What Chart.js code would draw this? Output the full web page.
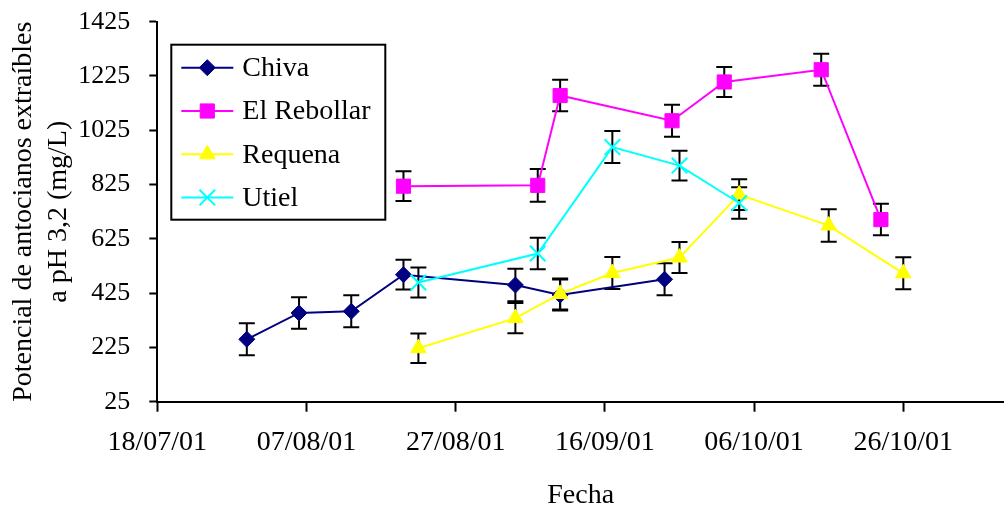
<!DOCTYPE html>
<html>
<head>
<meta charset="utf-8">
<script src="https://cdn.jsdelivr.net/npm/chart.js@4.4.0/dist/chart.umd.min.js"></script>
<style>
  html, body { margin: 0; padding: 0; background: #fff; }
  #wrap { width: 1004px; height: 510px; position: relative; }
</style>
</head>
<body>
<div id="wrap"><canvas id="antoChart"></canvas></div>
<script>
// sampling dates (dd/mm/yy) and values in mg/L, error = half height of the bar
const chivaDates = ['30/07/01','06/08/01','13/08/01','20/08/01','04/09/01','10/09/01','24/09/01'];
const chivaValues = [255, 352, 358, 493, 455, 418, 476];
const chivaErrors = [59, 58, 59, 55, 60, 57, 59];

const rebollarDates = ['20/08/01','07/09/01','10/09/01','25/09/01','02/10/01','15/10/01','23/10/01'];
const rebollarValues = [819, 822, 1153, 1060, 1203, 1248, 696];
const rebollarErrors = [55, 60, 58, 59, 55, 59, 58];

const requenaDates = ['22/08/01','04/09/01','10/09/01','17/09/01','26/09/01','04/10/01','16/10/01','26/10/01'];
const requenaValues = [222, 333, 422, 499, 556, 788, 674, 498];
const requenaErrors = [54, 56, 57, 59, 57, 57, 60, 59];

const utielDates = ['22/08/01','07/09/01','17/09/01','26/09/01','04/10/01'];
const utielValues = [464, 571, 963, 895, 757];
const utielErrors = [55, 58, 59, 55, 58];

const xTickLabels = ['18/07/01','07/08/01','27/08/01','16/09/01','06/10/01','26/10/01'];
const xStart = '18/07/01';
const xEnd = '08/11/01';

function toUTC(s){
  const [d,m,y] = s.split('/').map(Number);
  return Date.UTC(2000 + y, m - 1, d);
}
const base = toUTC(xStart);
function dayOf(s){ return (toUTC(s) - base) / 86400000; }

function points(dates, values){
  return dates.map((d,i)=>({x: dayOf(d), y: values[i]}));
}

const FONT = 'Liberation Serif';

const errorBars = {
  id: 'errorBars',
  beforeDatasetsDraw(chart) {
    const {ctx} = chart;
    const y = chart.scales.y;
    ctx.save();
    ctx.strokeStyle = '#000';
    ctx.lineWidth = 2;
    chart.data.datasets.forEach((ds, i) => {
      chart.getDatasetMeta(i).data.forEach((pt, j) => {
        const v = ds.data[j].y, e = ds.errors[j];
        const top = y.getPixelForValue(v + e);
        const bot = y.getPixelForValue(v - e);
        ctx.beginPath();
        ctx.moveTo(pt.x, top); ctx.lineTo(pt.x, bot);
        ctx.moveTo(pt.x - 8, top); ctx.lineTo(pt.x + 8, top);
        ctx.moveTo(pt.x - 8, bot); ctx.lineTo(pt.x + 8, bot);
        ctx.stroke();
      });
    });
    ctx.restore();
  }
};

const boxLegend = {
  id: 'boxLegend',
  afterDraw(chart) {
    const {ctx, chartArea} = chart;
    const left = chartArea.left + 14, top = chartArea.top + 23;
    const w = 214, h = 175;
    ctx.save();
    ctx.fillStyle = '#fff';
    ctx.fillRect(left, top, w, h);
    ctx.strokeStyle = '#000';
    ctx.lineWidth = 2;
    ctx.strokeRect(left, top, w, h);
    ctx.font = '28px "' + FONT + '"';
    ctx.textBaseline = 'middle';
    ctx.textAlign = 'left';
    chart.data.datasets.forEach((ds, i) => {
      const cy = top + 23 + i * 43.3;
      ctx.strokeStyle = ds.borderColor;
      ctx.lineWidth = 2;
      ctx.beginPath();
      ctx.moveTo(left + 10, cy);
      ctx.lineTo(left + 62, cy);
      ctx.stroke();
      ctx.fillStyle = ds.pointBackgroundColor;
      ctx.strokeStyle = ds.pointBorderColor;
      ctx.lineWidth = ds.pointBorderWidth;
      Chart.helpers.drawPoint(ctx, {pointStyle: ds.pointStyle, radius: ds.pointRadius, rotation: 0, borderWidth: ds.pointBorderWidth}, left + 36, cy);
      ctx.fillStyle = '#000';
      ctx.fillText(ds.label, left + 71, cy + 1);
    });
    ctx.restore();
  }
};

function series(label, dates, values, errors, color, style, radius, order){
  return {
    label: label,
    data: points(dates, values),
    errors: errors,
    borderColor: color,
    backgroundColor: color,
    borderWidth: 2,
    pointStyle: style,
    pointRadius: radius,
    pointHoverRadius: radius,
    pointBackgroundColor: color,
    pointBorderColor: color,
    pointBorderWidth: style === 'crossRot' ? 2 : 1,
    tension: 0,
    order: order
  };
}

const ctx = document.getElementById('antoChart').getContext('2d');

new Chart(ctx, {
  type: 'line',
  data: {
    datasets: [
      series('Chiva', chivaDates, chivaValues, chivaErrors, '#000080', 'rectRot', 8, 4),
      series('El Rebollar', rebollarDates, rebollarValues, rebollarErrors, '#ff00ff', 'rect', 10, 3),
      series('Requena', requenaDates, requenaValues, requenaErrors, '#ffff00', 'triangle', 9, 2),
      series('Utiel', utielDates, utielValues, utielErrors, '#00ffff', 'crossRot', 11, 1)
    ]
  },
  options: {
    responsive: true,
    maintainAspectRatio: false,
    animation: false,
    layout: { autoPadding: false, padding: { top: 21.7, right: 0, bottom: 0, left: 0 } },
    plugins: {
      legend: { display: false },
      tooltip: { enabled: false }
    },
    scales: {
      x: {
        type: 'linear',
        min: 0,
        max: dayOf(xEnd) + 0.5,
        afterBuildTicks(scale) {
          scale.ticks = xTickLabels.map(t => ({value: dayOf(t)}));
        },
        afterFit(scale) {
          scale.height = 108.3;
          scale.paddingLeft = 0;
          scale.paddingRight = 0;
        },
        ticks: {
          color: '#000',
          font: { family: FONT, size: 28 },
          padding: 14,
          maxRotation: 0,
          autoSkip: false,
          callback: (v) => xTickLabels.find(t => dayOf(t) === v) || ''
        },
        grid: { drawOnChartArea: false, drawTicks: true, tickLength: 10, tickWidth: 2, color: '#000' },
        border: { display: true, color: '#000', width: 2 },
        title: {
          display: true,
          text: 'Fecha',
          color: '#000',
          font: { family: FONT, size: 28, lineHeight: 1 },
          padding: { top: 9, bottom: 0 }
        }
      },
      y: {
        min: 25,
        max: 1425,
        afterFit(scale) {
          scale.width = 157.3;
          scale.paddingTop = 0;
          scale.paddingBottom = 0;
        },
        ticks: {
          stepSize: 200,
          color: '#000',
          font: { family: FONT, size: 26 },
          padding: 19,
          callback: (v) => String(v)
        },
        grid: { drawOnChartArea: false, drawTicks: true, tickLength: 8, tickWidth: 2, color: '#000' },
        border: { display: true, color: '#000', width: 2 },
        title: {
          display: true,
          text: ['Potencial de antocianos extraíbles', 'a pH 3,2 (mg/L)'],
          color: '#000',
          font: { family: FONT, size: 28, lineHeight: 1.25 },
          padding: { top: 6, bottom: 0 }
        }
      }
    }
  },
  plugins: [errorBars, boxLegend]
});
</script>
</body>
</html>
